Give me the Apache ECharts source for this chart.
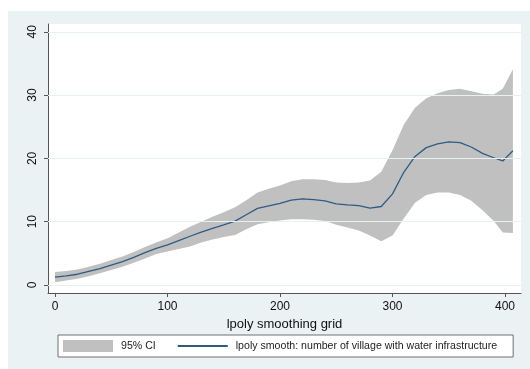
<!DOCTYPE html>
<html>
<head>
<meta charset="utf-8">
<script src="https://cdn.jsdelivr.net/npm/echarts@6/dist/echarts.min.js"></script>
<style>
html,body{margin:0;padding:0;background:#fff;}
#chart{width:530px;height:369px;}
</style>
</head>
<body>
<div id="chart"></div>
<script>
// Data
var grid = [0,10,20,30,40,50,60,70,80,90,100,110,120,130,140,150,160,170,180,190,200,210,220,230,240,250,260,270,280,290,300,310,320,330,340,350,360,370,380,390,398,407];
var smooth = [1.25,1.45,1.7,2.15,2.6,3.15,3.7,4.35,5.1,5.8,6.35,7.0,7.7,8.35,8.95,9.5,10.1,11.1,12.1,12.5,12.9,13.4,13.6,13.5,13.3,12.8,12.65,12.55,12.15,12.4,14.4,17.8,20.3,21.7,22.3,22.6,22.5,21.8,20.8,20.1,19.6,21.2];
var ciLow = [0.45,0.7,1.0,1.4,1.85,2.35,2.9,3.5,4.2,4.9,5.3,5.7,6.1,6.7,7.2,7.6,7.9,8.8,9.6,9.9,10.2,10.4,10.4,10.3,10.1,9.5,9.1,8.6,7.8,6.9,7.8,10.5,13.0,14.2,14.6,14.6,14.2,13.3,11.8,10.1,8.3,8.2];
var ciHigh = [2.05,2.2,2.45,2.9,3.35,3.95,4.5,5.2,6.0,6.7,7.4,8.3,9.2,10.0,10.8,11.5,12.3,13.4,14.6,15.2,15.7,16.4,16.7,16.7,16.6,16.2,16.1,16.2,16.5,17.9,21.3,25.3,28.0,29.5,30.3,30.8,31.0,30.6,30.2,30.1,31.0,34.1];
var yTicks = [0,10,20,30,40];
var xTicks = [0,100,200,300,400];
var ciName = '95% CI';
var lineName = 'lpoly smooth: number of village with water infrastructure';
var xTitle = 'lpoly smoothing grid';

var bandData = grid.map(function(g,i){ return [g, ciLow[i], ciHigh[i]]; });
var lineData = grid.map(function(g,i){ return [g, smooth[i]]; });

var chart = echarts.init(document.getElementById('chart'), null, {renderer:'canvas'});
var FONT = '"Liberation Sans", Arial, sans-serif';
var LINE_COLOR = '#2e5b84';

chart.setOption({
  animation: false,
  backgroundColor: '#ffffff',
  textStyle: {fontFamily: FONT},
  graphic: [{
    type: 'rect', left: 8, top: 11, z: -10,
    shape: {width: 522, height: 358},
    style: {fill: '#eaf2f3'}
  }],
  grid: {
    left: 48, right: 9, top: 24, bottom: 76,
    show: true, backgroundColor: '#ffffff', borderWidth: 0
  },
  legend: {
    left: 58, top: 335,
    padding: [5, 16, 5, 5],
    itemWidth: 50, itemHeight: 12, itemGap: 21,
    backgroundColor: '#ffffff',
    borderColor: '#707070', borderWidth: 1,
    textStyle: {fontSize: 10.6, color: '#222', fontFamily: FONT, padding: [0,0,0,3]},
    data: [
      {name: ciName, icon: 'rect', itemStyle: {color: '#c0c0c0'}},
      {name: lineName, itemStyle: {color: 'rgba(0,0,0,0)', borderWidth: 0, borderColor: 'rgba(0,0,0,0)'}}
    ]
  },
  xAxis: {
    type: 'value', min: -6.22, max: 414.2,
    name: xTitle, nameLocation: 'middle', nameGap: 21,
    nameTextStyle: {fontSize: 13, color: '#111', fontFamily: FONT},
    axisLine: {onZero: false, lineStyle: {color: '#555', width: 1}},
    axisTick: {show: true, customValues: xTicks, length: 4, lineStyle: {color: '#555'}},
    axisLabel: {customValues: xTicks, fontSize: 12, color: '#111', margin: 8, fontFamily: FONT},
    splitLine: {show: false}
  },
  yAxis: {
    type: 'value', min: -1.264, max: 41.23,
    axisLine: {show: true, onZero: false, lineStyle: {color: '#555', width: 1}},
    axisTick: {show: true, customValues: yTicks, length: 4, lineStyle: {color: '#555'}},
    axisLabel: {customValues: yTicks, rotate: 90, fontSize: 12, color: '#111', margin: 9, fontFamily: FONT},
    splitLine: {show: false}
  },
  series: [
    {
      type: 'line', name: 'gridlines', data: [], z: 1, silent: true,
      markLine: {
        silent: true, symbol: 'none', label: {show: false},
        lineStyle: {color: '#e8f0f2', width: 1.2, type: 'solid'},
        data: yTicks.map(function(v){ return {yAxis: v}; })
      }
    },
    {
      type: 'custom', name: ciName, z: 2,
      itemStyle: {color: '#c0c0c0'},
      data: bandData,
      encode: {x: 0, y: [1, 2]},
      renderItem: function(params, api){
        if (params.dataIndex !== 0) return null;
        var upper = [], lower = [];
        for (var i = 0; i < bandData.length; i++) {
          upper.push(api.coord([bandData[i][0], bandData[i][2]]));
          lower.push(api.coord([bandData[i][0], bandData[i][1]]));
        }
        var pts = upper.concat(lower.reverse());
        return {type: 'polygon', shape: {points: pts}, style: {fill: '#c0c0c0', stroke: null}};
      }
    },
    {
      type: 'line', name: lineName, z: 3,
      data: lineData, symbol: 'none', showSymbol: false,
      itemStyle: {color: LINE_COLOR},
      lineStyle: {color: LINE_COLOR, width: 1.3}
    }
  ]
});
</script>
</body>
</html>
